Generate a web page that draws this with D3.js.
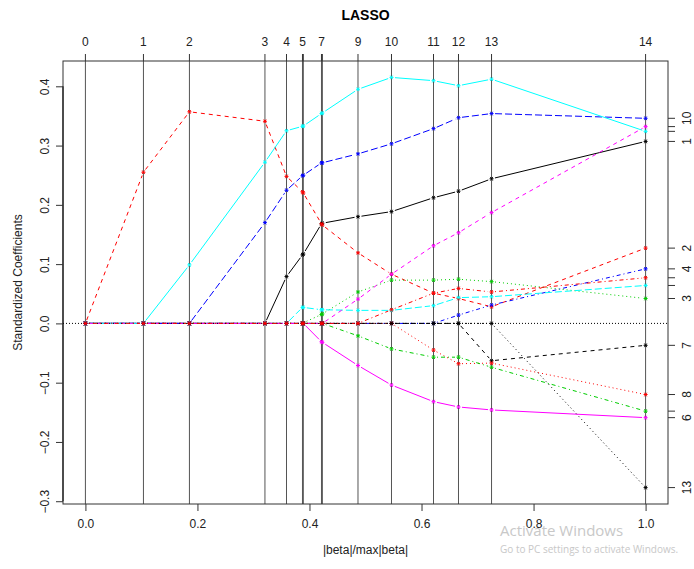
<!DOCTYPE html>
<html>
<head>
<meta charset="utf-8">
<script src="https://cdn.jsdelivr.net/npm/d3@7"></script>
<style>
  body { margin: 0; background: #fff; }
  svg { font-family: "Liberation Sans", Arial, sans-serif; }
</style>
</head>
<body>
<div id="content"></div>
<script>
// lars path: |beta|/max|beta| at each step
var stepX = [0, 0.1036, 0.1857, 0.3205, 0.359, 0.3875, 0.389, 0.4214, 0.4230, 0.4866, 0.5464, 0.6214, 0.666, 0.725, 1.0];
var stepLabels = ["0","1","2","3","4","5","","7","","9","10","11","12","13","14"];
var yTicks = [-0.3, -0.2, -0.1, 0.0, 0.1, 0.2, 0.3, 0.4];
var xTicks = [0, 0.2, 0.4, 0.6, 0.8, 1.0];

// coefficient of each variable at each step
var v1  = [0, 0, 0, 0, 0.079, 0.1155, 0.117, 0.168, 0.169, 0.180, 0.1886, 0.212, 0.223, 0.244, 0.307];
var v2  = [0, 0.255, 0.357, 0.341, 0.248, 0.222, 0.220, 0.168, 0.166, 0.119, 0.083, 0.051, 0.042, 0.028, 0.127];
var v3  = [0, 0, 0, 0, 0, 0, 0.001, 0.015, 0.016, 0.053, 0.073, 0.073, 0.0745, 0.0705, 0.042];
var v4  = [0, 0, 0, 0, 0, 0, 0, 0, 0, 0, 0, 0, 0.014, 0.031, 0.092];
var v5  = [0, 0, 0, 0, 0, 0.027, 0.027, 0.023, 0.023, 0.022, 0.022, 0.030, 0.0435, 0.045, 0.064];
var v6  = [0, 0, 0, 0, 0, 0, 0, -0.031, -0.032, -0.071, -0.104, -0.132, -0.141, -0.146, -0.159];
var v7  = [0, 0, 0, 0, 0, 0, 0, 0, 0, 0, 0, 0, 0, -0.063, -0.037];
var v8  = [0, 0, 0, 0, 0, 0, 0, 0, 0, 0, 0, -0.045, -0.068, -0.067, -0.120];
var v9  = [0, 0, 0, 0, 0, 0, 0, 0, 0, -0.021, -0.043, -0.057, -0.057, -0.074, -0.148];
var v10 = [0, 0, 0, 0.170, 0.2246, 0.249, 0.250, 0.2707, 0.271, 0.286, 0.303, 0.3286, 0.347, 0.354, 0.346];
var v11 = [0, 0, 0.0987, 0.272, 0.325, 0.3325, 0.333, 0.354, 0.355, 0.395, 0.415, 0.4095, 0.401, 0.412, 0.324];
var v12 = [0, 0, 0, 0, 0, 0, 0, 0, 0, 0.041, 0.083, 0.131, 0.153, 0.187, 0.332];
var v13 = [0, 0, 0, 0, 0, 0, 0, 0, 0, 0, 0, 0, 0, 0, -0.277];
var v14 = [0, 0, 0, 0, 0, 0, 0, 0, 0, 0, 0.023, 0.051, 0.059, 0.053, 0.077];

var coefs = [v1, v2, v3, v4, v5, v6, v7, v8, v9, v10, v11, v12, v13, v14];
// right axis: which variable numbers get a label
var rightShown = [1, 2, 3, 4, 6, 7, 8, 10, 13];

// R matplot defaults
var palette = ["#000000", "#FF0000", "#00CD00", "#0000FF", "#00FFFF", "#FF00FF"];
var dashes = [null, "4,4", "1,3", "1,3,4,3", "7,3"];

var W = 694, H = 569;
var margin = {left: 63, right: 26, top: 61, bottom: 65};

var svg = d3.select('#content').append("svg")
    .attr("width", W)
    .attr("height", H);

var all = [].concat.apply([], coefs);
var ext = d3.extent(all);
var pad = (ext[1] - ext[0]) * 0.04;

var x_scale = d3.scaleLinear().domain([-0.04, 1.04]).range([margin.left, W - margin.right]);
var y_scale = d3.scaleLinear().domain([ext[0] - pad, ext[1] + pad]).range([H - margin.bottom, margin.top]);

var x0 = margin.left, x1 = W - margin.right, yTop = margin.top, yBot = H - margin.bottom;

// step lines
svg.append("g").selectAll("line")
  .data(stepX)
  .enter().append("line")
    .attr("x1", function(d) { return x_scale(d); })
    .attr("x2", function(d) { return x_scale(d); })
    .attr("y1", yTop).attr("y2", yBot)
    .attr("stroke", "#555").attr("stroke-width", 1);

// zero line
svg.append("line")
  .attr("x1", x0).attr("x2", x1)
  .attr("y1", y_scale(0)).attr("y2", y_scale(0))
  .attr("stroke", "#000").attr("stroke-width", 1).attr("stroke-dasharray", "1,2");

// paths, type = "b": segments with a gap round each point
var gap = 3.5;
coefs.forEach(function(vals, j) {
  var col = palette[j % 6], dash = dashes[j % 5];
  var g = svg.append("g");
  var pts = vals.map(function(v, i) { return [x_scale(stepX[i]), y_scale(v)]; });
  for (var i = 0; i < pts.length - 1; i++) {
    var a = pts[i], b = pts[i + 1];
    var dx = b[0] - a[0], dy = b[1] - a[1];
    var len = Math.sqrt(dx * dx + dy * dy);
    if (len <= 2 * gap) continue;
    var ux = dx / len, uy = dy / len;
    g.append("line")
      .attr("x1", a[0] + ux * gap).attr("y1", a[1] + uy * gap)
      .attr("x2", b[0] - ux * gap).attr("y2", b[1] - uy * gap)
      .attr("stroke", col).attr("stroke-width", 1)
      .attr("stroke-dasharray", dash);
  }
  g.selectAll("path.pt")
    .data(pts)
    .enter().append("path")
      .attr("class", "pt")
      .attr("transform", function(d) { return "translate(" + d[0] + "," + d[1] + ")"; })
      .attr("d", "M-2,0H2M-1.2,-1.8L1.2,1.8M1.2,-1.8L-1.2,1.8")
      .attr("stroke", col).attr("stroke-width", 1).attr("fill", "none");
});

// box
svg.append("rect")
  .attr("x", x0).attr("y", yTop)
  .attr("width", x1 - x0).attr("height", yBot - yTop)
  .attr("fill", "none").attr("stroke", "#333").attr("stroke-width", 1);

// bottom axis
var xAxis = svg.append("g")
  .attr("transform", "translate(0," + yBot + ")")
  .call(d3.axisBottom(x_scale).tickValues(xTicks).tickFormat(d3.format(".1f")).tickSize(7).tickPadding(8));
xAxis.select(".domain").remove();

// left axis
var yAxis = svg.append("g")
  .attr("transform", "translate(" + x0 + ",0)")
  .call(d3.axisLeft(y_scale).tickValues(yTicks).tickFormat(d3.format(".1f")).tickSize(7));
yAxis.select(".domain").attr("d", "M0," + y_scale(-0.3) + "V" + y_scale(0.4));
yAxis.selectAll(".tick text")
  .attr("transform", "rotate(-90)")
  .attr("x", 0).attr("y", -18).attr("dy", "0.35em")
  .attr("text-anchor", "middle");

// top axis (step numbers)
var stepAxis = svg.append("g");
stepAxis.selectAll("line")
  .data(stepX)
  .enter().append("line")
    .attr("x1", function(d) { return x_scale(d); })
    .attr("x2", function(d) { return x_scale(d); })
    .attr("y1", yTop).attr("y2", yTop - 7)
    .attr("stroke", "#333");
stepAxis.selectAll("text")
  .data(stepX)
  .enter().append("text")
    .attr("x", function(d) { return x_scale(d); })
    .attr("y", yTop - 19)
    .attr("dy", "0.35em")
    .attr("text-anchor", "middle")
    .attr("font-size", 12)
    .attr("fill", "#222")
    .text(function(d, i) { return stepLabels[i]; });

// right axis (variable numbers)
var varAxis = svg.append("g");
var finals = coefs.map(function(c, j) { return {id: j + 1, v: c[c.length - 1]}; });
varAxis.selectAll("line")
  .data(finals)
  .enter().append("line")
    .attr("x1", x1).attr("x2", x1 + 7)
    .attr("y1", function(d) { return y_scale(d.v); })
    .attr("y2", function(d) { return y_scale(d.v); })
    .attr("stroke", "#333");
varAxis.selectAll("text")
  .data(finals.filter(function(d) { return rightShown.indexOf(d.id) >= 0; }))
  .enter().append("text")
    .attr("transform", function(d) { return "translate(" + (x1 + 19) + "," + y_scale(d.v) + ") rotate(-90)"; })
    .attr("dy", "0.35em")
    .attr("text-anchor", "middle")
    .attr("font-size", 12)
    .attr("fill", "#222")
    .text(function(d) { return d.id; });

svg.selectAll(".tick text").attr("font-size", 12).attr("fill", "#222").attr("font-family", "Liberation Sans, Arial, sans-serif");
svg.selectAll(".tick line").attr("stroke", "#333");

// titles
svg.append("text")
  .attr("x", (x0 + x1) / 2).attr("y", 20)
  .attr("text-anchor", "middle")
  .attr("font-size", 14).attr("font-weight", "bold")
  .text("LASSO");

svg.append("text")
  .attr("x", (x0 + x1) / 2).attr("y", yBot + 46)
  .attr("dy", "0.35em")
  .attr("text-anchor", "middle")
  .attr("font-size", 12).attr("fill", "#222")
  .text("|beta|/max|beta|");

svg.append("text")
  .attr("transform", "translate(" + (x0 - 45) + "," + ((yTop + yBot) / 2) + ") rotate(-90)")
  .attr("dy", "0.35em")
  .attr("text-anchor", "middle")
  .attr("font-size", 12).attr("fill", "#222")
  .text("Standardized Coefficients");

// desktop watermark seen in the screenshot
svg.append("text")
  .attr("x", 500).attr("y", 536)
  .attr("font-size", 15).attr("fill", "#c8c8c8")
  .attr("font-family", "Segoe UI, Open Sans, sans-serif")
  .text("Activate Windows");
svg.append("text")
  .attr("x", 500).attr("y", 553)
  .attr("font-size", 10).attr("fill", "#c8c8c8")
  .attr("font-family", "Segoe UI, Open Sans, sans-serif")
  .text("Go to PC settings to activate Windows.");
</script>
</body>
</html>
